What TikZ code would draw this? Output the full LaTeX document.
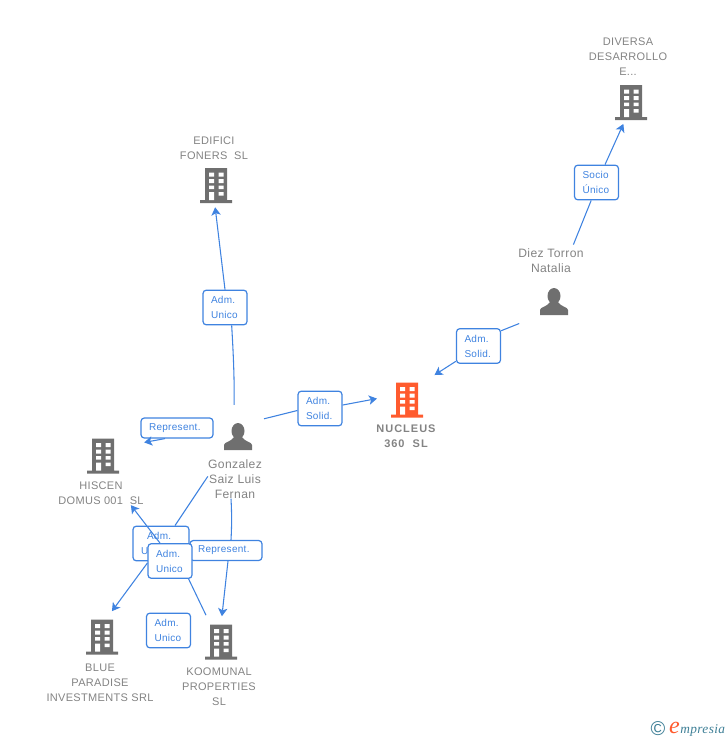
\documentclass[tikz,border=0pt]{standalone}
\usepackage{fontspec}
\setmainfont{Liberation Sans}
\newfontfamily\lblfont[LetterSpace=3]{Liberation Sans}
\newfontfamily\corefont[LetterSpace=9]{Liberation Sans}
\newfontfamily\logofont[LetterSpace=3]{Liberation Serif}
\usetikzlibrary{arrows.meta}
\definecolor{linkblue}{HTML}{3F83E0}
\definecolor{icongray}{HTML}{6F6F6F}
\definecolor{txtgray}{HTML}{838383}
\definecolor{coreorange}{HTML}{FF5B2E}
\definecolor{logoteal}{HTML}{3E7F96}
\tikzset{
	pics/building/.style={code={
		\fill[#1] (-11,-17.5) rectangle (11,14.5) (-16,14.5) rectangle (16,17.5);
		\fill[white] (-7,-13) rectangle (-2,-9) (2.5,-13) rectangle (7.5,-9)
		(-7,-6.5) rectangle (-2,-2.5) (2.5,-6.5) rectangle (7.5,-2.5)
		(-7,0) rectangle (-2,3.5) (2.5,0) rectangle (7.5,3.5)
		(-7,6.5) rectangle (-2,14.5) (2.5,6.5) rectangle (7.5,10);
	}},
	pics/person/.style={code={
		\fill[icongray] (0,-5) ellipse (6.5 and 8);
		\fill[icongray] (-14,14) -- (-14,9) .. controls (-14,6) and (-7,6) .. (-4,1)
		-- (4,1) .. controls (7,6) and (14,6) .. (14,9) -- (14,14) -- cycle;
	}},
}
\begin{document}
\begin{tikzpicture}[x=.75pt,y=-.75pt,
	icon/.style={inner sep=0pt,minimum width=24pt,minimum height=26.25pt},
	caption/.style={inner sep=0pt,yshift=-.75pt,align=center,text=txtgray,font=\fontsize{8.25}{11.25}\selectfont\lblfont},
	personcap/.style={caption,font=\fontsize{9.1}{11.25}\selectfont\lblfont},
	role/.style={draw=linkblue,fill=white,line width=.9pt,rounded corners=2.5pt,inner xsep=6pt,inner ysep=0pt,align=left,
		text=linkblue,font=\fontsize{7.5}{11.25}\selectfont\lblfont,text width=21pt,minimum height=26pt},
	wide/.style={role,text width=42pt,minimum height=15pt},
	link/.style={draw=linkblue,line width=.8pt},
	tiplink/.style={link,-{Stealth[length=6pt,width=7pt,inset=1.5pt]}}]
	\useasboundingbox (0,0) rectangle (728,740);

	% buildings
	\node[icon] (diversa) at (631,102.5) {};
	\node[icon] (edifici) at (216,185.5) {};
	\node[icon] (nucleus) at (407,400) {};
	\node[icon] (hiscen) at (103,456) {};
	\node[icon] (blue) at (102,637) {};
	\node[icon] (koomunal) at (221,642) {};
	\pic at (diversa) {building=icongray};
	\pic at (edifici) {building=icongray};
	\pic at (nucleus) {building=coreorange};
	\pic at (hiscen) {building=icongray};
	\pic at (blue) {building=icongray};
	\pic at (koomunal) {building=icongray};

	% people
	\node[icon] (diez) at (554,301) {};
	\node[icon] (gonzalez) at (238,436) {};
	\pic at (diez) {person};
	\pic at (gonzalez) {person};

	% names
	\node[caption] (diversa_l) at (628,56) {DIVERSA\\DESARROLLO\\E...};
	\node[caption] (edifici_l) at (214,147.5) {EDIFICI\\FONERS~ SL};
	\node[caption,font=\fontsize{8.25}{11.25}\selectfont\corefont\bfseries] (nucleus_l) at (406,435.5) {NUCLEUS\\360~ SL};
	\node[caption] (hiscen_l) at (101,492.5) {HISCEN\\DOMUS 001~ SL};
	\node[caption] (blue_l) at (100,682) {BLUE\\PARADISE\\INVESTMENTS SRL};
	\node[caption] (koomunal_l) at (219,686) {KOOMUNAL\\PROPERTIES\\SL};
	\node[personcap] (diez_l) at (551,259.5) {Diez Torron\\Natalia};
	\node[personcap] (gonzalez_l) at (235,478) {Gonzalez\\Saiz Luis\\Fernan};

	% role boxes
	\node[role] (r_socio) at (596.5,182.5) {Socio\\Único};
	\node[role] (r_edifici) at (225,307.5) {Adm.\\Unico};
	\node[role] (r_diez) at (478.5,346) {Adm.\\Solid.};
	\node[role] (r_nucleus) at (320,408.5) {Adm.\\Solid.};
	\node[wide] (r_hiscen) at (177,428) {Represent.};
	\node[role,text width=30pt] (r_blue) at (161,543.5) {\hspace*{4.5pt}Adm.\\Unico};
	\node[wide] (r_koomunal) at (226,550.5) {Represent.};
	\node[role] (r_cross) at (170,561) {Adm.\\Unico};
	\node[role] (r_free) at (168.5,630.5) {Adm.\\Unico};

	% connectors
	\path[link,shorten <=3pt] ([xshift=-9pt]diez_l.north east) -- ([xshift=-4pt]r_socio.south);
	\path[tiplink,shorten >=3pt] ([xshift=6.4pt]r_socio.north) -- ([xshift=-4.5pt]diversa.south);
	\path[link,shorten <=15pt] ([yshift=2pt]diez.south west) -- ([yshift=-2pt]r_diez.north east);
	\path[tiplink,shorten >=10pt] ([yshift=2pt]r_diez.south west) -- (nucleus.north east);
	\path[link,shorten <=10pt] ([xshift=-3pt]gonzalez.north) to[bend right=2] ([xshift=5pt]r_edifici.south);
	\path[tiplink,shorten >=3pt] (r_edifici.north) -- ([xshift=-1pt]edifici.south);
	\path[link,shorten <=7.5pt] ([yshift=-2.25pt]gonzalez.north east) -- ([yshift=-1.5pt]r_nucleus.west);
	\path[tiplink,shorten >=10.5pt] ([yshift=2.6pt]r_nucleus.east) -- ([yshift=3pt]nucleus.west);
	\path[tiplink,shorten >=19pt] ([xshift=-9pt]r_hiscen.south) -- ([yshift=6.75pt]hiscen.east);
	\path[link] ([yshift=2pt]gonzalez_l.west) -- ([xshift=10.5pt]r_blue.north);
	\path[tiplink,shorten >=7.5pt] ([yshift=-1.5pt]r_cross.west) -- ([xshift=3pt]blue.north);
	\path[link] ([xshift=-3pt]gonzalez_l.south) to[bend left=3] ([xshift=3.75pt]r_koomunal.north);
	\path[tiplink,shorten >=6pt] ([xshift=1.5pt]r_koomunal.south) -- (koomunal.north);
	\path[link,shorten <=7.5pt] ([xshift=-8pt]koomunal.north) -- ([xshift=-3pt]r_cross.south east);
	\path[tiplink] ([xshift=-7.5pt]r_cross.north) -- ([xshift=-9.75pt]hiscen_l.south east);

	% logo
	\node[inner sep=0pt,text=logoteal,font=\fontsize{15}{15}\selectfont] (logo_c) at (658,729) {\textcopyright};
	\node[inner sep=0pt,anchor=base west,text=logoteal,font=\fontsize{10}{10}\selectfont\logofont\itshape] (logo_t) at (680,733) {mpresia};
	\node[inner sep=0pt,anchor=base east,text=coreorange,font=\fontsize{18}{18}\selectfont\logofont\itshape] (logo_e) at (logo_t.base west) {e};
\end{tikzpicture}
\end{document}
